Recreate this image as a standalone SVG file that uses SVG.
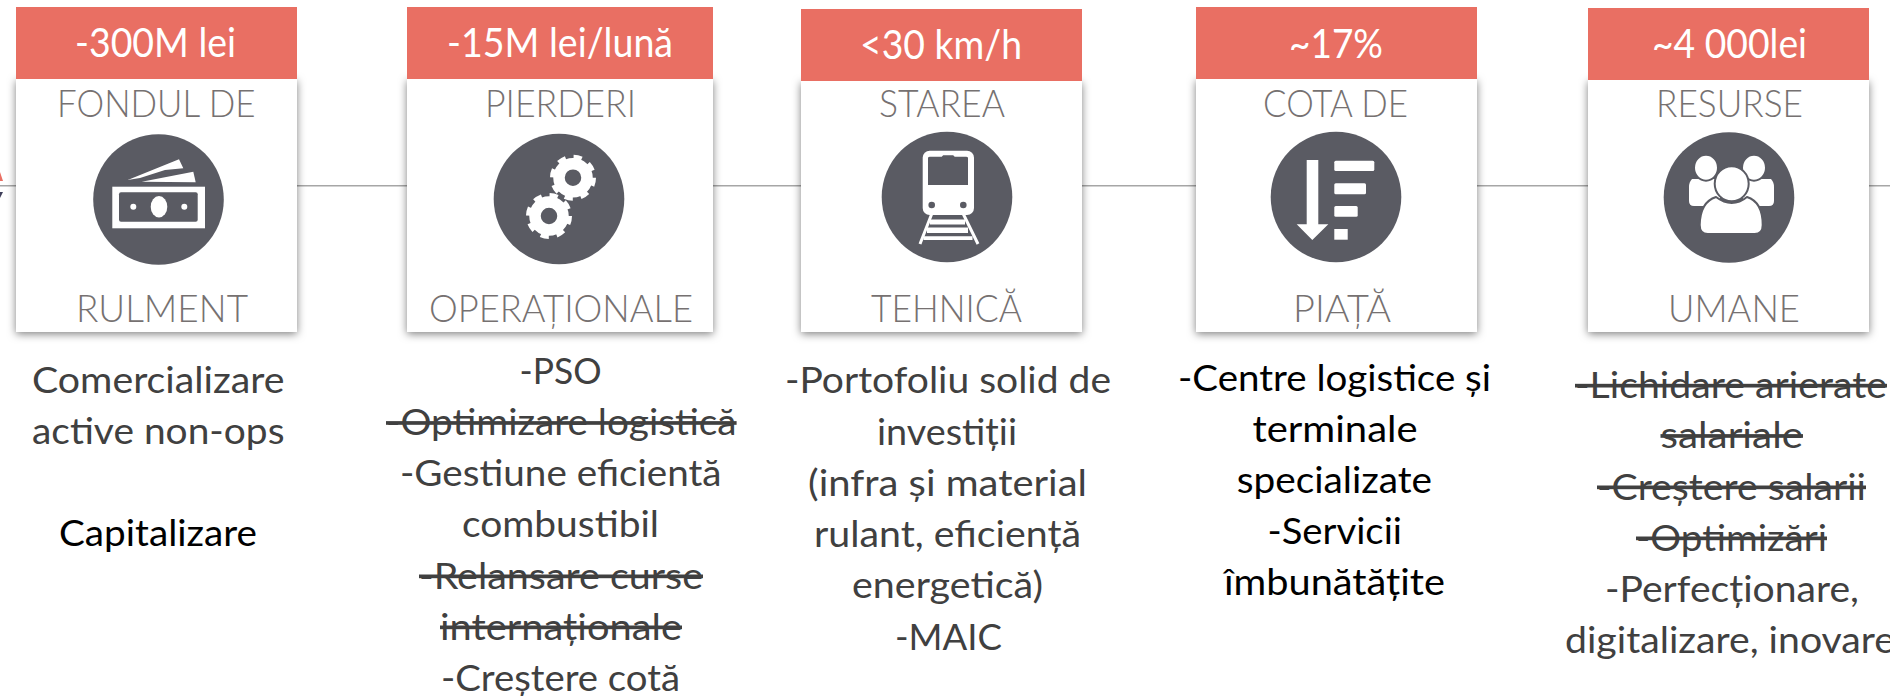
<svg xmlns="http://www.w3.org/2000/svg" width="1890" height="696" viewBox="0 0 1890 696">
<style>
text{font-family:Lato,"Noto Sans","Liberation Sans",sans-serif}
.kpi{font-size:40px;fill:#fff}
.head{font-size:37px;font-weight:300;fill:#767171}
.body{font-size:37px;fill:#404040}
.blk{font-size:37px;fill:#000}
.st{text-decoration:line-through;text-decoration-thickness:2.5px}
.card{fill:#fff;filter:url(#sh)}
.band{fill:#e96f63}
.disc{fill:#5a5b63}
.ic{fill:#fff}
.dk{fill:#5a5b63}
.ring{fill:#fff;stroke:#5a5b63;stroke-width:2}
.conn{stroke:#a6a6a6;stroke-width:1.6;fill:none}
</style>
<defs>
<filter id="sh" x="-10%" y="-10%" width="120%" height="120%"><feDropShadow dx="0" dy="2" stdDeviation="4" flood-color="#000" flood-opacity="0.5"/></filter>
<g id="gear"><circle r="14" fill="none" stroke="#fff" stroke-width="11.5"/><circle r="20" fill="none" stroke="#fff" stroke-width="6" stroke-dasharray="8 7.7"/></g>
</defs>
<g id="connectors">
<line class="conn" x1="0" y1="185.7" x2="1890" y2="185.7"/>
<polygon points="0,172 3,181 0,181" fill="#e96f63"/>
<polygon points="0,192 3,192 0,198" fill="#3f3f5a"/>
</g>
<g id="node-fond">
<rect class="card" x="16" y="79" width="281" height="253"/>
<rect class="band" x="16" y="7" width="281" height="72"/>
<text class="kpi" x="75" y="57.3" textLength="161" lengthAdjust="spacingAndGlyphs">-300M lei</text>
<text class="head" x="57" y="116.7" textLength="198.5" lengthAdjust="spacingAndGlyphs">FONDUL DE</text>
<text class="head" x="76" y="321.7" textLength="172" lengthAdjust="spacingAndGlyphs">RULMENT</text>
<circle class="disc" cx="158.5" cy="199.5" r="65.3"/>
<rect class="ic" x="112.3" y="186.7" width="92.7" height="41.6"/>
<rect class="dk" x="119" y="192.3" width="78.7" height="29.4" rx="2"/>
<ellipse class="ic" cx="159" cy="206.7" rx="8.3" ry="10.7"/>
<circle class="ic" cx="133.3" cy="206.7" r="3"/>
<circle class="ic" cx="184.3" cy="206.7" r="3"/>
<polygon class="ic" points="127.7,180 179,159.3 183.3,168.3 165,170 140,178"/>
<polygon class="ic" points="141.7,181.7 193.3,171.7 195.7,182.3"/>
<text class="body" x="32" y="393" textLength="252.5" lengthAdjust="spacingAndGlyphs">Comercializare</text>
<text class="body" x="32" y="443.7" textLength="252.5" lengthAdjust="spacingAndGlyphs">active non-ops</text>
<text class="blk" x="59" y="546" textLength="198" lengthAdjust="spacingAndGlyphs">Capitalizare</text>
</g>
<g id="node-pierderi">
<rect class="card" x="407" y="79" width="306" height="253"/>
<rect class="band" x="407" y="7" width="306" height="72"/>
<text class="kpi" x="447" y="57" textLength="226" lengthAdjust="spacingAndGlyphs">-15M lei/lună</text>
<text class="head" x="485" y="116.7" textLength="151" lengthAdjust="spacingAndGlyphs">PIERDERI</text>
<text class="head" x="429" y="321.7" textLength="264" lengthAdjust="spacingAndGlyphs">OPERAȚIONALE</text>
<circle class="disc" cx="559" cy="199" r="65.3"/>
<use href="#gear" x="573" y="177.7"/>
<use href="#gear" x="549" y="216"/>
<text class="body" x="519.6" y="384" textLength="82" lengthAdjust="spacingAndGlyphs">-PSO</text>
<text class="body st" x="386" y="435.3" textLength="350.6" lengthAdjust="spacingAndGlyphs">-Optimizare logistică</text>
<text class="body" x="400" y="486" textLength="321.5" lengthAdjust="spacingAndGlyphs">-Gestiune eficientă</text>
<text class="body" x="462" y="537" textLength="197" lengthAdjust="spacingAndGlyphs">combustibil</text>
<text class="body st" x="419" y="588.7" textLength="284" lengthAdjust="spacingAndGlyphs">-Relansare curse</text>
<text class="body st" x="440" y="639.7" textLength="242" lengthAdjust="spacingAndGlyphs">internaționale</text>
<text class="body" x="441" y="691" textLength="239" lengthAdjust="spacingAndGlyphs">-Creștere cotă</text>
</g>
<g id="node-stare">
<rect class="card" x="801" y="81" width="281" height="251"/>
<rect class="band" x="801" y="9" width="281" height="72"/>
<text class="kpi" x="860" y="59" textLength="162" lengthAdjust="spacingAndGlyphs">&lt;30 km/h</text>
<text class="head" x="879" y="116.7" textLength="126" lengthAdjust="spacingAndGlyphs">STAREA</text>
<text class="head" x="871" y="321.7" textLength="151" lengthAdjust="spacingAndGlyphs">TEHNICĂ</text>
<circle class="disc" cx="947" cy="197" r="65.3"/>
<rect class="ic" x="922.7" y="150.7" width="51.3" height="64.3" rx="7"/>
<path class="dk" d="M928 158q0-1.300 2-1.300h11.700l1.500-1.500h10l1.500 1.500h11.300q2 0 2 1.300v27h-40z"/>
<circle class="dk" cx="931.7" cy="205" r="3.3"/>
<circle class="dk" cx="963.3" cy="205" r="3.3"/>
<path d="M931.7 214L920 244M963.300 214L978 244" fill="none" stroke="#fff" stroke-width="3"/>
<path class="ic" d="M930 219.500h35v5h-35zM927 227.500h41v5.500h-41zM923.500 236.200h49v3.800h-49z"/>
<text class="body" x="785" y="393" textLength="326" lengthAdjust="spacingAndGlyphs">-Portofoliu solid de</text>
<text class="body" x="877" y="444.7" textLength="140" lengthAdjust="spacingAndGlyphs">investiții</text>
<text class="body" x="808" y="495.7" textLength="279" lengthAdjust="spacingAndGlyphs">(infra și material</text>
<text class="body" x="814" y="546.7" textLength="267" lengthAdjust="spacingAndGlyphs">rulant, eficiență</text>
<text class="body" x="852" y="598" textLength="191" lengthAdjust="spacingAndGlyphs">energetică)</text>
<text class="body" x="895" y="649.7" textLength="107" lengthAdjust="spacingAndGlyphs">-MAIC</text>
</g>
<g id="node-cota">
<rect class="card" x="1196" y="79" width="281" height="253"/>
<rect class="band" x="1196" y="7" width="281" height="72"/>
<text class="kpi" x="1289" y="58" textLength="94" lengthAdjust="spacingAndGlyphs">~17%</text>
<text class="head" x="1263" y="116.7" textLength="145" lengthAdjust="spacingAndGlyphs">COTA DE</text>
<text class="head" x="1293" y="321.7" textLength="98" lengthAdjust="spacingAndGlyphs">PIAȚĂ</text>
<circle class="disc" cx="1336" cy="197" r="65.3"/>
<polygon class="ic" points="1306.7,160 1318.3,160 1318.3,224.3 1328.3,224.3 1312.3,240 1296.7,224.3 1306.7,224.3"/>
<rect class="ic" x="1334.3" y="160.7" width="40" height="10.3" rx="1.5"/>
<rect class="ic" x="1334.3" y="183.3" width="31.7" height="11" rx="1.5"/>
<rect class="ic" x="1334.3" y="206" width="23.4" height="10.7" rx="1.5"/>
<rect class="ic" x="1334.3" y="229" width="13.4" height="10.7"/>
<text class="blk" x="1178" y="390.7" textLength="313" lengthAdjust="spacingAndGlyphs">-Centre logistice și</text>
<text class="blk" x="1252.4" y="441.7" textLength="165.2" lengthAdjust="spacingAndGlyphs">terminale</text>
<text class="blk" x="1236.7" y="493" textLength="195.3" lengthAdjust="spacingAndGlyphs">specializate</text>
<text class="blk" x="1267.5" y="544" textLength="134.5" lengthAdjust="spacingAndGlyphs">-Servicii</text>
<text class="blk" x="1224" y="595.3" textLength="221" lengthAdjust="spacingAndGlyphs">îmbunătățite</text>
</g>
<g id="node-resurse">
<rect class="card" x="1588" y="80" width="281" height="252"/>
<rect class="band" x="1588" y="8" width="281" height="72"/>
<text class="kpi" x="1652" y="58" textLength="155" lengthAdjust="spacingAndGlyphs">~4 000lei</text>
<text class="head" x="1656" y="116.7" textLength="147" lengthAdjust="spacingAndGlyphs">RESURSE</text>
<text class="head" x="1668" y="321.7" textLength="132" lengthAdjust="spacingAndGlyphs">UMANE</text>
<circle class="disc" cx="1729" cy="197.5" r="65.3"/>
<path class="ic" d="M1692 179h28v27h-26q-5 0-5-5v-14q0-5 3-8zM1771 179h-28v27h26q5 0 5-5v-14q0-5-3-8z"/>
<ellipse class="ring" cx="1706" cy="167.7" rx="12" ry="13"/>
<ellipse class="ring" cx="1754" cy="167.7" rx="12" ry="13"/>
<path class="ring" d="M1716 197q8 6 15.700 6 8 0 15.300-6 15.700 5 15.700 28 0 9-8 9h-47q-8 0-8-9 .5-23 16.300-28z"/>
<ellipse class="ring" cx="1731.7" cy="183.8" rx="17" ry="17.500"/>
<text class="body st" x="1575" y="398" textLength="312" lengthAdjust="spacingAndGlyphs">-Lichidare arierate</text>
<text class="body st" x="1660.5" y="448.3" textLength="142.5" lengthAdjust="spacingAndGlyphs">salariale</text>
<text class="body st" x="1597" y="499.7" textLength="269" lengthAdjust="spacingAndGlyphs">-Creștere salarii</text>
<text class="body st" x="1636" y="550.7" textLength="191" lengthAdjust="spacingAndGlyphs">-Optimizări</text>
<text class="body" x="1605" y="602" textLength="254" lengthAdjust="spacingAndGlyphs">-Perfecționare,</text>
<text class="body" x="1565" y="653" textLength="330" lengthAdjust="spacingAndGlyphs">digitalizare, inovare</text>
</g>
</svg>
